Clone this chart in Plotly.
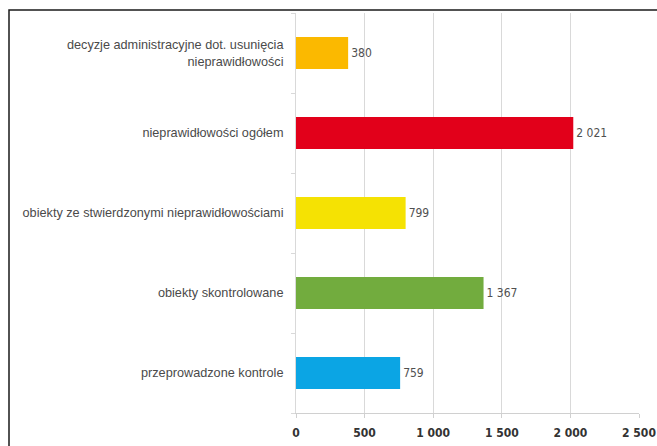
import plotly.graph_objects as go

categories = [
    "przeprowadzone kontrole",
    "obiekty skontrolowane",
    "obiekty ze stwierdzonymi nieprawidłowościami",
    "nieprawidłowości ogółem",
    "decyzje administracyjne dot. usunięcia<br>nieprawidłowości",
]
values = [759, 1367, 799, 2021, 380]
value_labels = ["759", "1 367", "799", "2 021", "380"]
colors = ["#0BA5E4", "#72AC3E", "#F5E203", "#E2001A", "#FBB900"]
tick_vals = [0, 500, 1000, 1500, 2000, 2500]
tick_text = ["0", "500", "1 000", "1 500", "2 000", "2 500"]

W, H = 657, 446
L, R, T, B = 296, 18, 13, 33

fig = go.Figure(go.Bar(
    y=categories, x=values, orientation="h",
    marker=dict(color=colors, line=dict(width=0)),
    text=value_labels, textposition="outside",
    textfont=dict(family="DejaVu Sans Condensed, Liberation Sans", size=12, color="#505050"),
    cliponaxis=False,
))

pw = W - L - R
ph = H - T - B
bx0 = (9 - L) / pw
by1 = 1 + (T - 10) / ph
bx1 = (W + 5 - L) / pw
by0 = -(H + 5 - (T + ph)) / ph

fig.update_layout(
    width=W, height=H,
    margin=dict(l=L, r=R, t=T, b=B, pad=0),
    paper_bgcolor="white", plot_bgcolor="white",
    bargap=0.6,
    showlegend=False,
    xaxis=dict(
        range=[0, 2500], tickvals=tick_vals, ticktext=tick_text,
        showgrid=True, gridcolor="#D9D9D9", gridwidth=1,
        zeroline=False, showline=True, linecolor="#D0D0D0", linewidth=1,
        ticks="outside", ticklen=4, tickcolor="#D0D0D0",
        ticklabelstandoff=5, automargin=False,
        tickfont=dict(family="DejaVu Sans Condensed, Liberation Sans", size=12, color="#333333", weight="bold"),
        fixedrange=True,
    ),
    yaxis=dict(
        showgrid=False, zeroline=False,
        showline=True, linecolor="#D9D9D9", linewidth=1,
        ticks="outside", tickson="boundaries", ticklen=4, tickcolor="#D9D9D9",
        ticklabelstandoff=9, automargin=False,
        tickfont=dict(family="Liberation Sans, Arial", size=12.7, color="#4A4A4A"),
        fixedrange=True,
    ),
    shapes=[dict(
        type="rect", xref="paper", yref="paper",
        x0=bx0, x1=bx1, y0=by0, y1=by1,
        line=dict(color="#1A1A1A", width=1.5), fillcolor="rgba(0,0,0,0)",
        layer="above",
    )],
)

fig.write_html("out.html", config={"displayModeBar": False})
